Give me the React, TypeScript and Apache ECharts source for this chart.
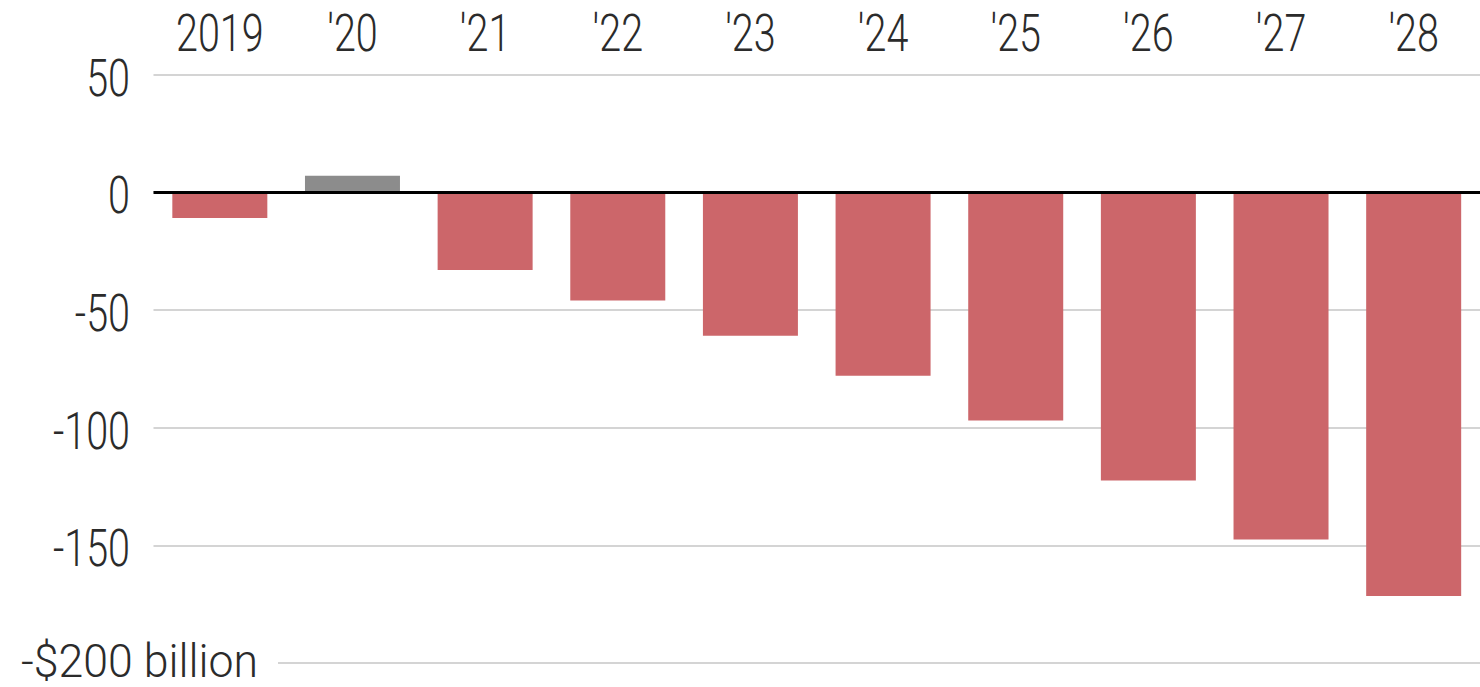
import React, { useEffect, useRef } from "react";
import * as echarts from "echarts";

const categories = ["2019", "'20", "'21", "'22", "'23", "'24", "'25", "'26", "'27", "'28"];
const values = [-11, 7, -33, -46, -61, -78, -97, -122.5, -147.5, -171.5];
const barColors = ["#cc666a", "#8c8c8c", "#cc666a", "#cc666a", "#cc666a", "#cc666a", "#cc666a", "#cc666a", "#cc666a", "#cc666a"];
const yTicks = [50, 0, -50, -100, -150, -200];
const yTickLabels = ["50", "0", "-50", "-100", "-150", "-$200 billion"];
const yMin = -200;
const yMax = 50;
const yStep = 50;

const FONT = "Roboto, 'Open Sans', sans-serif";
const TEXT = "#2b2b2b";
const FS = 52;
const SX = 0.76;

export default function App() {
  const ref = useRef<HTMLDivElement>(null);
  useEffect(() => {
    if (!ref.current) return;
    const chart = echarts.init(ref.current, undefined, { renderer: "svg" });
    const gridLeft = 153.5;
    const gridTop = 74.5;
    const gridBottom = 24;
    chart.setOption({
      animation: false,
      backgroundColor: "#ffffff",
      grid: { left: gridLeft, right: -2, top: gridTop, bottom: gridBottom, containLabel: false },
      xAxis: {
        type: "category",
        position: "top",
        data: categories,
        axisLine: { show: false },
        axisTick: { show: false },
        axisLabel: { show: false },
        splitLine: { show: false },
      },
      yAxis: {
        type: "value",
        min: yMin,
        max: yMax,
        interval: yStep,
        axisLine: { show: false },
        axisTick: { show: false },
        axisLabel: { show: false },
        splitLine: { show: true, lineStyle: { color: "#d4d4d4", width: 2 } },
      },
      series: [
        {
          type: "bar",
          barWidth: 95,
          data: values.map((v, i) => ({ value: v, itemStyle: { color: barColors[i] } })),
          markLine: {
            silent: true,
            symbol: "none",
            label: { show: false },
            lineStyle: { color: "#000000", width: 3, type: "solid" },
            data: [{ yAxis: 0 }],
            z: 10,
          },
        },
      ],
    });

    const graphics: any[] = [];
    categories.forEach((c) => {
      const x = chart.convertToPixel({ xAxisIndex: 0 }, c) as number;
      graphics.push({
        type: "text",
        x,
        y: 33,
        scaleX: SX,
        z: 101,
        style: { text: c, fontFamily: FONT, fontWeight: 300, fontSize: FS, fill: TEXT, textAlign: "center", textVerticalAlign: "middle" },
      });
    });
    yTicks.forEach((v, i) => {
      const y = chart.convertToPixel({ yAxisIndex: 0 }, v) as number;
      const isBottom = v === yMin;
      graphics.push({
        type: "text",
        x: isBottom ? 258 : 130,
        y: isBottom ? y - 2 : y + 3,
        scaleX: isBottom ? 0.97 : SX,
        z: 101,
        style: {
          text: yTickLabels[i],
          fontFamily: FONT,
          fontWeight: 300,
          fontSize: isBottom ? 46 : FS,
          fill: TEXT,
          textAlign: "right",
          textVerticalAlign: "middle",
        },
      });
      if (isBottom) {
        graphics.push({
          type: "rect",
          z: 100,
          shape: { x: gridLeft - 2, y: y - 3, width: 280 - gridLeft, height: 6 },
          style: { fill: "#ffffff" },
        });
      }
    });
    chart.setOption({ graphic: graphics });
    return () => chart.dispose();
  }, []);
  return <div ref={ref} style={{ position: "fixed", left: 0, top: 0, width: 1480, height: 687 }} />;
}
